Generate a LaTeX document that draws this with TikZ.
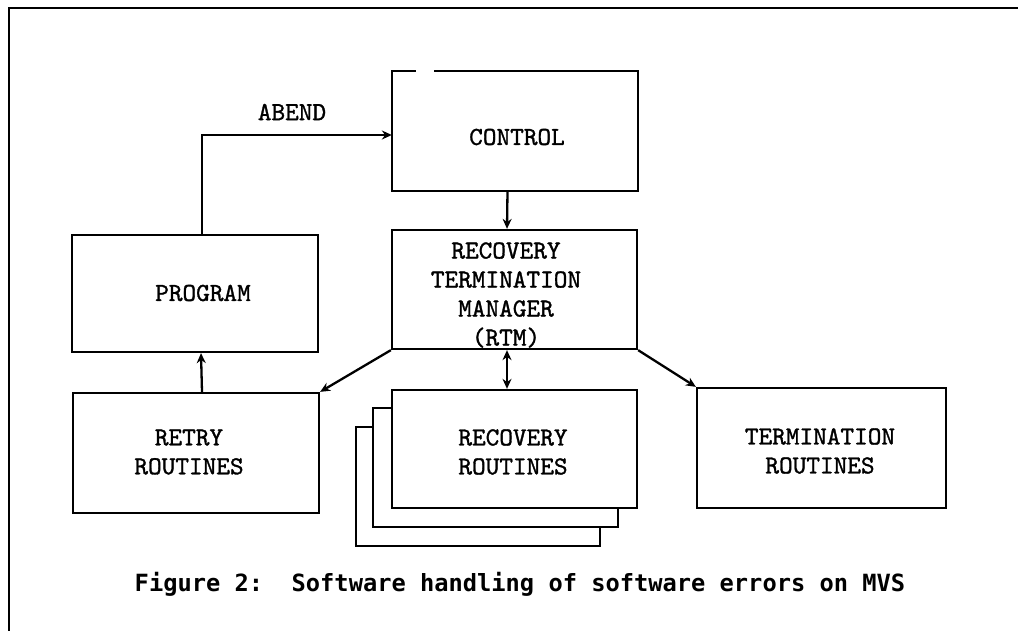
\documentclass[tikz,border=0pt]{standalone}
\usepackage{fontspec}
\usetikzlibrary{arrows.meta}
\newfontfamily\capfont{DejaVu Sans Mono}
\newfontfamily\labfont{lmmono10-regular.otf}[FakeBold=1.2]
\begin{document}
\begin{tikzpicture}[x=1pt,y=-1pt,
  line width=2.3pt,
  boxlab/.style={font=\labfont\fontsize{26}{29}\selectfont, align=center, inner sep=0pt},
  box/.style={draw, minimum width=#1, inner sep=0pt},
  arr/.style={-{Stealth[length=10pt,width=9pt]}},
  darr/.style={{Stealth[length=10pt,width=9pt]}-{Stealth[length=10pt,width=9pt]}}]
\useasboundingbox (0,0) rectangle (1018,631);
% frame
\draw[line width=2.8pt] (9,631) -- (9,8) -- (1018,8);
% CONTROL (top edge has a small gap)
\node[minimum width=244pt, minimum height=118pt, inner sep=0pt] (control) at (515,131) {};
\draw (control.north west) ++(24,0) -- (control.north west) -- (control.south west) -- (control.south east) -- (control.north east) -- ([xshift=-204pt]control.north east);
\node[boxlab] (controlt) at (517,137) {CONTROL};
% PROGRAM
\node[box=246pt, minimum height=117pt] (program) at (195,293.5) {};
\node[boxlab] (programt) at (203,293) {PROGRAM};
% RTM
\node[box=245pt, minimum height=119pt] (rtm) at (514.5,289.5) {};
\node[boxlab] (rtmt) at (506,295) {RECOVERY\\TERMINATION\\MANAGER\\(RTM)};
% RETRY
\node[box=246pt, minimum height=120pt] (retry) at (196,453) {};
\node[boxlab] (retryt) at (189,452) {RETRY\\ROUTINES};
% RECOVERY stack
\node[box=244pt, minimum height=119pt] (rec3) at (478,486.5) {};
\node[box=245pt, minimum height=119pt, fill=white] (rec2) at (495.5,467.5) {};
\node[box=245pt, minimum height=118pt, fill=white] (rec1) at (514.5,449) {};
\node[boxlab] (rec1t) at (513,452) {RECOVERY\\ROUTINES};
% TERMINATION
\node[box=249pt, minimum height=120pt] (term) at (821.5,448) {};
\node[boxlab] (termt) at (820,451) {TERMINATION\\ROUTINES};
% connectors
\coordinate (abendc) at (202,135);
\draw[arr] (program.north -| abendc) -- (abendc) -- (control.west |- abendc);
\node[boxlab] (abend) at (292,112) {ABEND};
\draw[arr] ([xshift=-7.5pt]control.south) -- ([xshift=-7.5pt]rtm.north);
\draw[darr] ([xshift=-7.5pt]rtm.south) -- ([xshift=-7.5pt]rec1.north);
\draw[arr] ([xshift=6pt]retry.north) -- ([xshift=6pt]program.south);
\draw[arr] (rtm.south west) -- (retry.north east);
\draw[arr] (rtm.south east) -- (term.north west);
% caption
\node[font=\capfont\bfseries\fontsize{23.7}{28}\selectfont, inner sep=0pt] (caption) at (520,584) {Figure 2:\ \ Software handling of software errors on MVS};
\end{tikzpicture}
\end{document}
